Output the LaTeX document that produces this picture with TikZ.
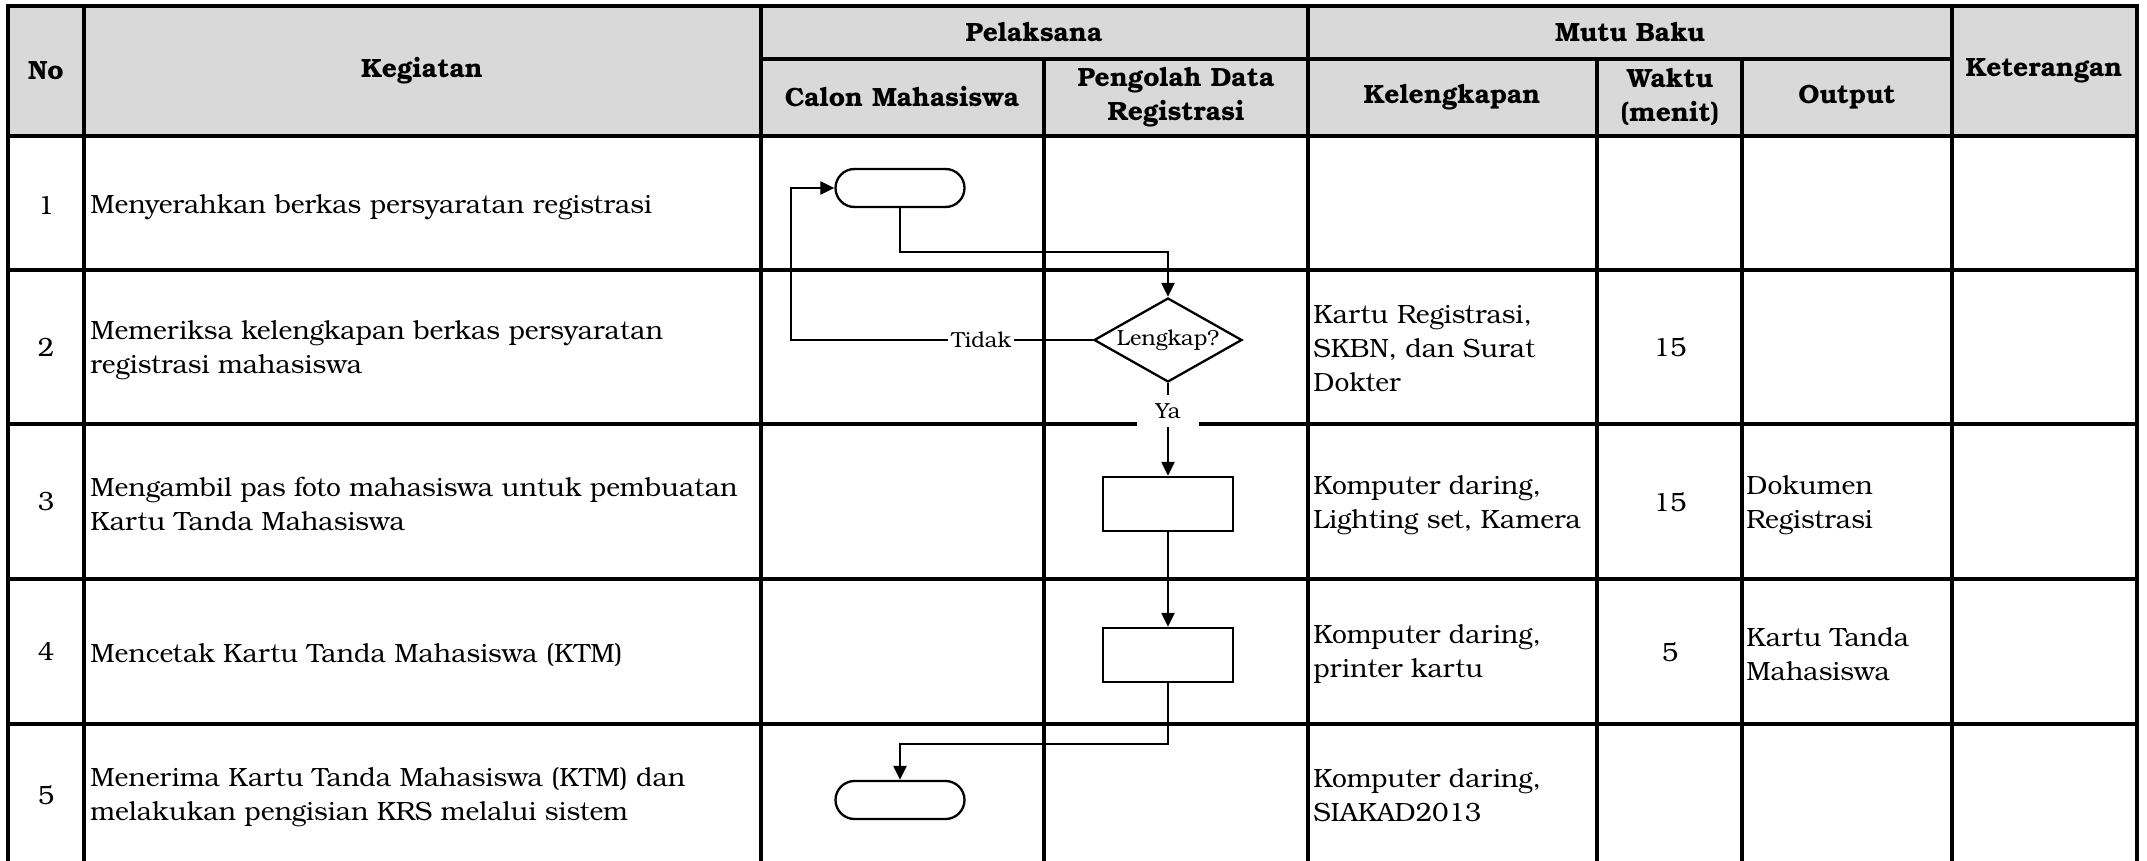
\documentclass[tikz,border=0pt]{standalone}
\usepackage{fontspec}
\setmainfont{TeX Gyre Bonum}
\usetikzlibrary{shapes.geometric,arrows.meta}
\definecolor{hdrgray}{HTML}{D9D9D9}
\tikzset{
  tline/.style={line width=1.65pt, line cap=rect},
  hdr/.style={font=\fontsize{13.2pt}{17pt}\selectfont\bfseries, align=center, inner sep=0pt},
  cell/.style={font=\fontsize{13.2pt}{17pt}\selectfont, align=left, anchor=west, inner sep=0pt},
  num/.style={font=\fontsize{13.2pt}{17pt}\selectfont, inner sep=0pt},
  flow/.style={line width=1.15pt, -{Triangle[length=7pt,width=6.5pt]}},
  term/.style={draw, line width=1.15pt, rounded corners=9.5pt, minimum width=64.5pt, minimum height=19pt, inner sep=0pt},
  proc/.style={draw, line width=1.15pt, minimum width=65pt, minimum height=27pt, inner sep=0pt},
  dec/.style={draw, diamond, line width=1.15pt, minimum width=74pt, minimum height=42pt, inner sep=0pt, aspect=1.76},
  lbl/.style={font=\fontsize{10.9pt}{13pt}\selectfont, fill=white, inner sep=1.5pt},
}
\begin{document}
\begin{tikzpicture}[x=0.5pt,y=-0.5pt]
\useasboundingbox (0,0) rectangle (2147,861);
% header background
\fill[hdrgray] (8,6) rectangle (2137,136);
% table lines
\draw[tline] (8,6) -- (2137,6);
\draw[tline] (761,59) -- (1952,59);
\draw[tline] (8,136) -- (2137,136);
\foreach \yy in {270,424,579,724} {\draw[tline] (8,\yy) -- (2137,\yy);}
\foreach \xx in {8,84,761,1308,1952,2137} {\draw[tline] (\xx,6) -- (\xx,861);}
\foreach \xx in {1044,1597,1742} {\draw[tline] (\xx,59) -- (\xx,861);}
% header texts
\node[hdr] (hNo) at (46,71) {No};
\node[hdr] (hKeg) at (422,71) {Kegiatan};
\node[hdr] (hPel) at (1034,32) {Pelaksana};
\node[hdr] (hCal) at (902,97) {Calon Mahasiswa};
\node[hdr] (hPen) at (1176,97) {Pengolah Data\\Registrasi};
\node[hdr] (hMut) at (1630,32) {Mutu Baku};
\node[hdr] (hKel) at (1452,97) {Kelengkapan};
\node[hdr] (hWak) at (1670,97) {Waktu\\(menit)};
\node[hdr] (hOut) at (1847,97) {Output};
\node[hdr] (hKet) at (2044,71) {Keterangan};
% numbers
\node[num] (n1) at (46,206) {1};
\node[num] (n2) at (46,347) {2};
\node[num] (n3) at (46,502) {3};
\node[num] (n4) at (46,652) {4};
\node[num] (n5) at (46,795) {5};
% activities
\node[cell] (k1) at (90,207) {Menyerahkan berkas persyaratan registrasi};
\node[cell] (k2) at (90,350) {Memeriksa kelengkapan berkas persyaratan\\registrasi mahasiswa};
\node[cell] (k3) at (90,504) {Mengambil pas foto mahasiswa untuk pembuatan\\Kartu Tanda Mahasiswa};
\node[cell] (k4) at (90,655) {Mencetak Kartu Tanda Mahasiswa (KTM)};
\node[cell] (k5) at (90,797) {Menerima Kartu Tanda Mahasiswa (KTM) dan\\melakukan pengisian KRS melalui sistem};
% kelengkapan
\node[cell] (l2) at (1313,349) {Kartu Registrasi,\\SKBN, dan Surat\\Dokter};
\node[cell] (l3) at (1313,505) {Komputer daring,\\Lighting set, Kamera};
\node[cell] (l4) at (1313,654) {Komputer daring,\\printer kartu};
\node[cell] (l5) at (1313,795) {Komputer daring,\\SIAKAD2013};
% waktu
\node[num] (w2) at (1670,347) {15};
\node[num] (w3) at (1670,502) {15};
\node[num] (w4) at (1670,652) {5};
% output
\node[cell] (o3) at (1746,505) {Dokumen\\Registrasi};
\node[cell] (o4) at (1746,654) {Kartu Tanda\\Mahasiswa};
% flowchart shapes
\node[term] (t1) at (900,188) {};
\node[dec, label={[font=\fontsize{10.9pt}{13pt}\selectfont]center:Lengkap?}] (d1) at (1168,340) {};
\node[proc] (r1) at (1168,504) {};
\node[proc] (r2) at (1168,655) {};
\node[term] (t2) at (900,800) {};
\coordinate (c1) at (1168,252);
\coordinate (c2) at (791,340);
\coordinate (c3) at (1168,744);
% connectors
\draw[flow] (t1.south) |- (c1) -- (d1.north);
\draw[flow] (d1.west) -- node[lbl, pos=0.37]{Tidak} (c2) |- (t1.west);
\draw[flow] (d1.south) -- node[lbl, pos=0.305, minimum width=31pt, minimum height=16pt]{Ya} (r1.north);
\draw[flow] (r1.south) -- (r2.north);
\draw[flow] (r2.south) -- (c3) -| (t2.north);
\end{tikzpicture}
\end{document}
